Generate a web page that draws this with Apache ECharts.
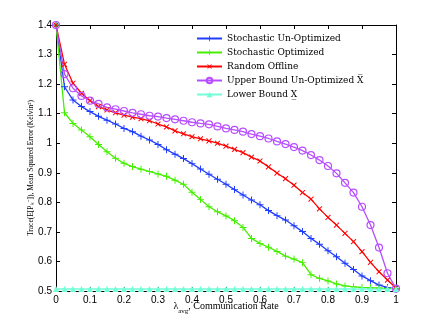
<!DOCTYPE html>
<html>
<head>
<meta charset="utf-8">
<script src="https://cdn.jsdelivr.net/npm/echarts@6/dist/echarts.min.js"></script>
<style>
  html, body { margin: 0; padding: 0; background: #fff; }
  #chart { width: 436px; height: 327px; }
</style>
</head>
<body>
<div id="chart"></div>
<script>
// communication rate samples
const rates = [0, 0.025, 0.05, 0.075, 0.1, 0.125, 0.15, 0.175, 0.2, 0.225, 0.25, 0.275, 0.3, 0.325, 0.35, 0.375, 0.4, 0.425, 0.45, 0.475, 0.5,
  0.525, 0.55, 0.575, 0.6, 0.625, 0.65, 0.675, 0.7, 0.725, 0.75, 0.775, 0.8, 0.825, 0.85, 0.875, 0.9, 0.925, 0.95, 0.975, 1];

const stochUnopt = [1.4, 1.191, 1.146, 1.124, 1.107, 1.091, 1.078, 1.065, 1.05, 1.039, 1.024, 1.011, 0.996, 0.978, 0.963, 0.948, 0.931, 0.913, 0.895, 0.878, 0.861,
  0.843, 0.825, 0.808, 0.792, 0.772, 0.755, 0.74, 0.721, 0.701, 0.678, 0.658, 0.636, 0.616, 0.594, 0.573, 0.551, 0.535, 0.52, 0.512, 0.507];

const stochOpt = [1.4, 1.103, 1.067, 1.045, 1.022, 0.996, 0.971, 0.949, 0.932, 0.921, 0.912, 0.904, 0.896, 0.888, 0.875, 0.861, 0.834, 0.81, 0.785, 0.768, 0.754,
  0.738, 0.715, 0.678, 0.661, 0.648, 0.634, 0.618, 0.608, 0.596, 0.555, 0.543, 0.534, 0.524, 0.517, 0.514, 0.512, 0.511, 0.51, 0.509, 0.508];

const randomOffline = [1.4, 1.267, 1.203, 1.169, 1.144, 1.124, 1.113, 1.103, 1.095, 1.088, 1.083, 1.076, 1.065, 1.055, 1.042, 1.032, 1.022, 1.015, 1.008, 1.0, 0.99,
  0.979, 0.968, 0.953, 0.94, 0.92, 0.899, 0.88, 0.858, 0.833, 0.811, 0.778, 0.749, 0.723, 0.695, 0.667, 0.633, 0.597, 0.565, 0.537, 0.51];

const upperBound = [1.4, 1.234, 1.186, 1.16, 1.144, 1.133, 1.121, 1.115, 1.109, 1.103, 1.098, 1.093, 1.09, 1.085, 1.081, 1.076, 1.071, 1.067, 1.064, 1.057, 1.05,
  1.045, 1.039, 1.031, 1.024, 1.016, 1.006, 0.997, 0.987, 0.975, 0.96, 0.943, 0.923, 0.898, 0.866, 0.833, 0.785, 0.723, 0.647, 0.56, 0.508];

const lowerBound = [0.507, 0.507, 0.507, 0.507, 0.507, 0.507, 0.507, 0.507, 0.507, 0.507, 0.507, 0.507, 0.507, 0.507, 0.507, 0.507, 0.507, 0.507, 0.507, 0.507, 0.507,
  0.507, 0.507, 0.507, 0.507, 0.507, 0.507, 0.507, 0.507, 0.507, 0.507, 0.507, 0.507, 0.507, 0.507, 0.507, 0.507, 0.507, 0.507, 0.507, 0.507];

const xTicks = { min: 0, max: 1, interval: 0.1 };
const yTicks = { min: 0.5, max: 1.4, interval: 0.1 };

const names = [
  "Stochastic Un-Optimized",
  "Stochastic Optimized",
  "Random Offline",
  "Upper Bound Un-Optimized X\u0305",
  "Lower Bound X\u0332",
];

const plusPath = "path://M4.3,0 H5.7 V4.3 H10 V5.7 H5.7 V10 H4.3 V5.7 H0 V4.3 H4.3 Z";

function pairs(ys) {
  return rates.map((x, i) => [x, ys[i]]);
}

function tickLabel(v) {
  return String(+v.toFixed(1));
}

const chart = echarts.init(document.getElementById("chart"));

const axisCommon = {
  axisLine: { show: true, onZero: false, lineStyle: { color: "#000", width: 1 } },
  axisTick: { show: true, inside: true, length: 4, lineStyle: { color: "#000" } },
  splitLine: { show: false },
};

chart.setOption({
  backgroundColor: "#fff",
  animation: false,
  grid: { left: 56, right: 40, top: 25, bottom: 36 },
  legend: {
    orient: "vertical",
    left: 191,
    top: 29,
    itemWidth: 25,
    itemHeight: 7,
    itemGap: 5,
    textStyle: { fontFamily: "DejaVu Serif", fontSize: 9, color: "#000" },
    data: names,
  },
  xAxis: [
    Object.assign({
      type: "value",
      min: xTicks.min, max: xTicks.max, interval: xTicks.interval,
      position: "bottom",
      axisLabel: { formatter: tickLabel, color: "#000", fontFamily: "Liberation Sans", fontSize: 10, margin: 4 },
      name: "{a|\u03bb}{s|avg}{a|, Communication Rate}",
      nameLocation: "middle",
      nameGap: 6,
      nameMoveOverlap: false,
      nameTextStyle: {
        rich: {
          a: { fontFamily: "Liberation Serif", fontSize: 10, color: "#000", lineHeight: 18, verticalAlign: "middle" },
          s: { fontFamily: "Liberation Serif", fontSize: 7, color: "#000", lineHeight: 18, verticalAlign: "bottom" },
        },
      },
    }, axisCommon),
    Object.assign({
      type: "value",
      min: xTicks.min, max: xTicks.max, interval: xTicks.interval,
      position: "top",
      axisLabel: { show: false },
    }, axisCommon),
  ],
  yAxis: [
    Object.assign({
      type: "value",
      min: yTicks.min, max: yTicks.max, interval: yTicks.interval,
      position: "left",
      axisLabel: { formatter: tickLabel, color: "#000", fontFamily: "Liberation Sans", fontSize: 10, margin: 4 },
      name: "Trace(E[P\u2096\u207b]), Mean Squared Error (Kelvin\u00b2)",
      nameLocation: "middle",
      nameGap: 21,
      nameMoveOverlap: false,
      nameTextStyle: { fontFamily: "Liberation Serif", fontSize: 7.5, color: "#000", padding: [0, 20, 0, 0] },
    }, axisCommon),
    Object.assign({
      type: "value",
      min: yTicks.min, max: yTicks.max, interval: yTicks.interval,
      position: "right",
      axisLabel: { show: false },
    }, axisCommon),
  ],
  series: [
    {
      name: names[0], type: "line", data: pairs(stochUnopt),
      symbol: plusPath, symbolSize: 7,
      lineStyle: { color: "#1f3cff", width: 1.3 },
      itemStyle: { color: "#1f3cff" },
    },
    {
      name: names[1], type: "line", data: pairs(stochOpt),
      symbol: plusPath, symbolSize: 7,
      lineStyle: { color: "#44f000", width: 1.3 },
      itemStyle: { color: "#44f000" },
    },
    {
      name: names[2], type: "line", data: pairs(randomOffline),
      symbol: plusPath, symbolSize: 7, symbolRotate: 45,
      lineStyle: { color: "#ff0000", width: 1.3 },
      itemStyle: { color: "#ff0000" },
    },
    {
      name: names[3], type: "line", data: pairs(upperBound),
      symbol: "circle", symbolSize: 7,
      lineStyle: { color: "#b84dff", width: 1.3 },
      itemStyle: { color: "rgba(255,255,255,0)", borderColor: "#b84dff", borderWidth: 1.2 },
    },
    {
      name: names[4], type: "line", data: pairs(lowerBound),
      symbol: "triangle", symbolSize: 6,
      lineStyle: { color: "#70ffd6", width: 1.5 },
      itemStyle: { color: "#70ffd6" },
    },
  ],
});
</script>
</body>
</html>
